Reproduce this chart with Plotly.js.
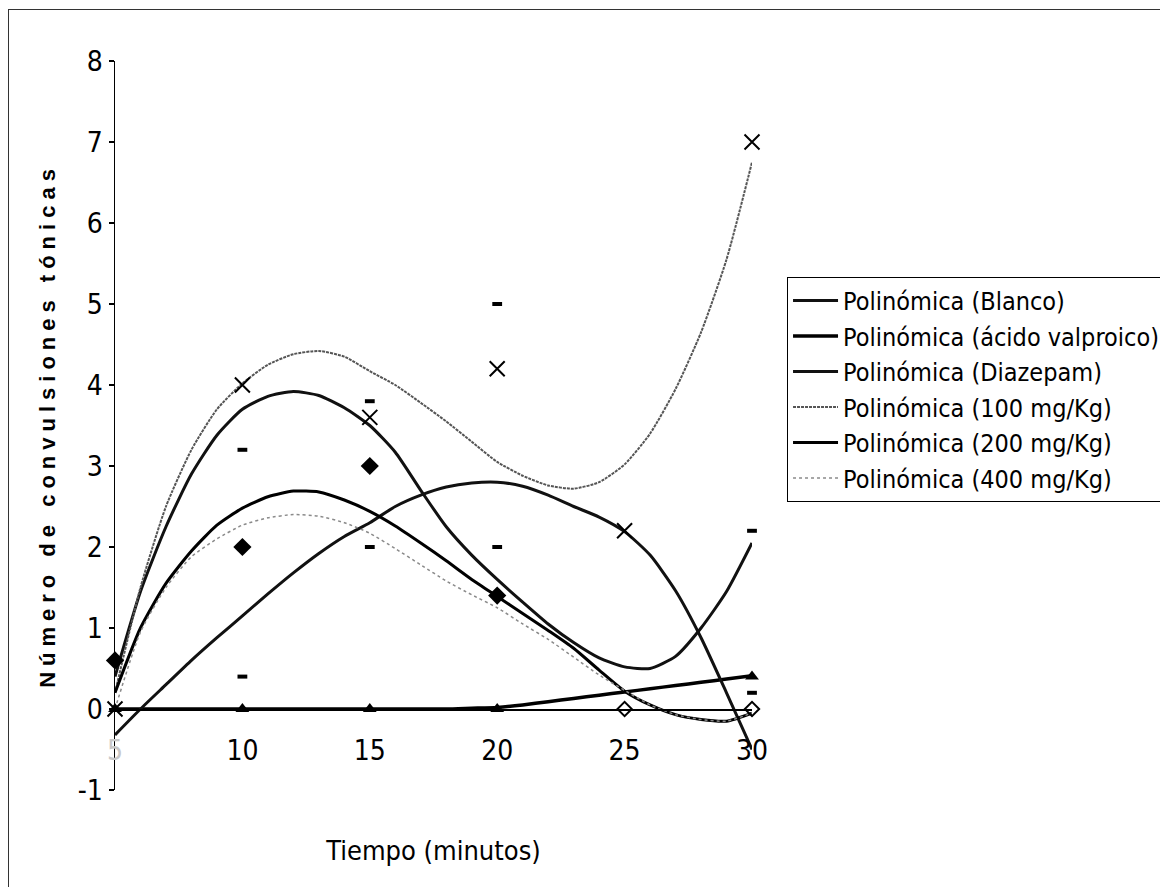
<!DOCTYPE html>
<html>
<head>
<meta charset="utf-8">
<script src="https://cdn.plot.ly/plotly-3.0.1.min.js"></script>
<style>
  html, body { margin: 0; padding: 0; background: #fff; }
  #wrap { position: relative; width: 1160px; height: 887px; overflow: hidden; }
  #chart { width: 1160px; height: 887px; }
  #frame { position: absolute; left: 8px; top: 9px; width: 1200px; height: 900px;
           border-top: 1px solid #333; border-left: 1px solid #333; pointer-events: none; }
  .ytitle { letter-spacing: 6px; }
</style>
</head>
<body>
<div id="wrap">
  <div id="chart"></div>
  <div id="frame"></div>
</div>
<script>
// ---- Data ----
const seriesNames = [
  "Polinómica (Blanco)",
  "Polinómica (ácido valproico)",
  "Polinómica (Diazepam)",
  "Polinómica (100 mg/Kg)",
  "Polinómica (200 mg/Kg)",
  "Polinómica (400 mg/Kg)"
];

// x positions along the trend curves (minutes)
const tiempoCurva = [5,6,7,8,9,10,11,12,13,14,15,16,17,18,19,20,21,22,23,24,25,26,27,28,29,30];

// trend curves
const curvaBlanco   = [0.4,1.45,2.25,2.9,3.38,3.7,3.86,3.92,3.87,3.72,3.5,3.17,2.7,2.25,1.9,1.6,1.32,1.05,0.82,0.63,0.52,0.5,0.65,1.0,1.45,2.05];
const curvaAcido    = [0,0,0,0,0,0,0,0,0,0,0,0,0,0,0.01,0.02,0.05,0.09,0.13,0.17,0.21,0.25,0.29,0.33,0.37,0.41];
const curvaDiazepam = [-0.32,0.0,0.3,0.6,0.88,1.15,1.42,1.68,1.92,2.13,2.3,2.5,2.64,2.74,2.79,2.8,2.75,2.64,2.5,2.37,2.19,1.9,1.46,0.88,0.2,-0.5];
const curva100      = [0.2,1.5,2.5,3.2,3.7,4.02,4.25,4.38,4.42,4.35,4.17,4.0,3.78,3.55,3.3,3.05,2.88,2.76,2.72,2.8,3.02,3.4,3.95,4.65,5.55,6.75];
const curva200      = [0.2,1.0,1.55,1.95,2.27,2.48,2.62,2.69,2.68,2.58,2.44,2.26,2.05,1.83,1.6,1.39,1.18,0.97,0.75,0.48,0.22,0.05,-0.07,-0.13,-0.15,-0.05];
const curva400      = [0.0,0.95,1.5,1.88,2.1,2.27,2.36,2.4,2.38,2.3,2.17,1.98,1.78,1.58,1.41,1.25,1.05,0.86,0.64,0.42,0.23,0.05,-0.07,-0.13,-0.15,-0.05];

// observed points (markers)
const tBlancoPts   = [10,15,20,30];      const yBlancoPts   = [3.2,3.8,2.0,2.2];
const tAcidoPts    = [5,10,15,20,30];    const yAcidoPts    = [0,0,0,0,0.4];
const tDiazepamPts = [10,15,20,30];      const yDiazepamPts = [0.4,2.0,5.0,0.2];
const t100Pts      = [5,10,15,20,25,30]; const y100Pts      = [0,4.0,3.6,4.2,2.2,7.0];
const t200Pts      = [5,10,15,20];       const y200Pts      = [0.6,2.0,3.0,1.4];
const t400Pts      = [25,30];            const y400Pts      = [0,0];

// axis ticks
const xTicks = [5,10,15,20,25,30];
const xTickText = ['<span style="color:#c8c8c8">5</span>','10','15','20','25','30'];
const yTicks = [-1,0,1,2,3,4,5,6,7,8];
const yTickText = ['-1','0','1','2','3','4','5','6','7','8'];

// ---- Styles ----
const narrow = '"Liberation Sans Narrow", "Arial Narrow", "DejaVu Sans Condensed", "Liberation Sans", Arial, sans-serif';
const curves = [curvaBlanco, curvaAcido, curvaDiazepam, curva100, curva200, curva400];
const lineStyles = [
  {color:'#111', width:3},
  {color:'#000', width:3.5},
  {color:'#111', width:3},
  {color:'#555', width:2, dash:'3px,1px'},
  {color:'#000', width:3},
  {color:'#8a8a8a', width:1.5, dash:'dot'}
];

const traces = [];
curves.forEach((c, i) => {
  traces.push({
    x: tiempoCurva, y: c, type: 'scatter', mode: 'lines',
    name: seriesNames[i], line: Object.assign({shape:'spline', smoothing:0.6}, lineStyles[i]),
    hoverinfo: 'skip', cliponaxis: false
  });
});

const markerSets = [
  {x:tBlancoPts, y:yBlancoPts, marker:{symbol:'line-ew-open', size:7, color:'#000', line:{width:4, color:'#000'}}},
  {x:tAcidoPts, y:yAcidoPts, marker:{symbol:'triangle-up', size:12, color:'#000'}},
  {x:tDiazepamPts, y:yDiazepamPts, marker:{symbol:'line-ew-open', size:7, color:'#000', line:{width:4, color:'#000'}}},
  {x:t100Pts, y:y100Pts, marker:{symbol:'x-thin-open', size:15, color:'#000', line:{width:2, color:'#000'}}},
  {x:t200Pts, y:y200Pts, marker:{symbol:'diamond', size:14, color:'#000'}},
  {x:t400Pts, y:y400Pts, marker:{symbol:'diamond-open', size:11, color:'#000', line:{width:2, color:'#000'}}}
];
markerSets.forEach((m, i) => {
  traces.push({
    x: m.x, y: m.y, type: 'scatter', mode: 'markers', marker: m.marker,
    name: seriesNames[i] + ' datos', showlegend: false, cliponaxis: false
  });
});

const layout = {
  width: 1160, height: 887,
  margin: {l:115, r:408, t:61, b:97, autoexpand: false},
  paper_bgcolor: '#fff', plot_bgcolor: 'rgba(0,0,0,0)',
  showlegend: true,
  font: {family: narrow, color:'#000', size: 26},
  xaxis: {
    range: [5, 30], anchor: 'free', position: 1/9, automargin: false,
    showline: true, linecolor: '#000', linewidth: 1.5,
    showgrid: false, zeroline: false, ticks: '',
    tickvals: xTicks, ticktext: xTickText,
    tickfont: {family: narrow, size: 28, color:'#000'},
    ticklabelstandoff: 16,
    title: {text: 'Tiempo (minutos)', font: {family: narrow, size: 27, color:'#000'}, standoff: 75}
  },
  yaxis: {
    range: [-1, 8], tickvals: yTicks, ticktext: yTickText, automargin: false,
    showline: true, linecolor: '#000', linewidth: 1.5,
    showgrid: false, zeroline: false,
    ticks: 'outside', ticklen: 5, tickcolor: '#000', tickwidth: 1.5,
    tickfont: {family: narrow, size: 28, color:'#000'},
    title: {text: 'Número de convulsiones tónicas', font: {family: '"Liberation Sans", Arial, sans-serif', size: 22, color:'#000', weight: 'bold'}, standoff: 16}
  },
  legend: {
    x: 1.055, y: 0.704, xanchor: 'left', yanchor: 'top',
    bgcolor: '#fff', bordercolor: '#000', borderwidth: 1,
    font: {family: narrow, size: 25, color:'#000'},
    itemwidth: 45, tracegroupgap: 0
  }
};

Plotly.newPlot('chart', traces, layout, {displayModeBar: false, staticPlot: true});
</script>
</body>
</html>
